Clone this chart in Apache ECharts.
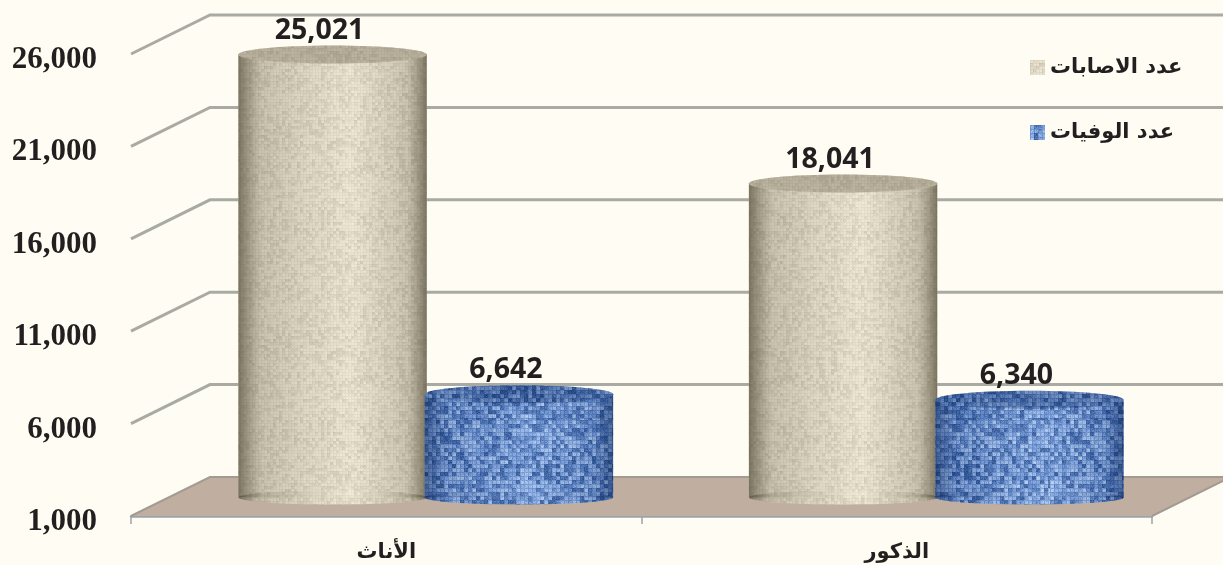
<!DOCTYPE html>
<html><head><meta charset="utf-8">
<style>html,body{margin:0;padding:0;background:#FFFDF3}#c{width:1223px;height:565px}</style>
<script src="https://cdn.jsdelivr.net/npm/echarts@6/dist/echarts.min.js"></script>
</head><body><div id="c"></div>
<script>
const categories = ['الأناث', 'الذكور'];
const seriesNames = ['عدد الاصابات', 'عدد الوفيات'];
const infections = [25021, 18041];
const deaths = [6642, 6340];
const yTicks = [1000, 6000, 11000, 16000, 21000, 26000];

const DEPTH_X = 79, DEPTH_Y = -39;
const BAR_RATIO = 0.369;

function hash(x, y, s) {
  const v = Math.sin(x * 127.1 + y * 311.7 + s * 74.7) * 43758.5453;
  return v - Math.floor(v);
}
function weave(size, base, dark, light, cell, seed, amount, seamAmt, blur) {
  const raw = document.createElement('canvas');
  raw.width = raw.height = size;
  const g = raw.getContext('2d');
  const mix = (a, b, t) => a.map((v, i) => Math.round(v + (b[i] - v) * t));
  for (let y = 0; y < size; y++) for (let x = 0; x < size; x++) {
    const cx = Math.floor(x / cell), cy = Math.floor(y / cell);
    const n = hash(cx, cy, seed + 1);
    const fine = hash(x, y, seed + 2);
    const row = hash(0, Math.floor(y / (cell * 5)), seed + 3);
    const col = hash(Math.floor(x / (cell * 7)), 0, seed + 4);
    let t = (n - 0.5) * amount + (fine - 0.5) * amount * 0.35 + (row + col - 1) * amount * 0.1;
    let c = t > 0 ? mix(base, light, Math.min(1, t * 1.6)) : mix(base, dark, Math.min(1, -t * 1.6));
    if (x % cell === 0 || y % cell === 0) c = mix(c, dark, seamAmt);
    g.fillStyle = 'rgb(' + c.join(',') + ')';
    g.fillRect(x, y, 1, 1);
  }
  const cv = document.createElement('canvas');
  cv.width = cv.height = size;
  const o = cv.getContext('2d');
  o.filter = 'blur(' + blur + 'px)';
  for (let dx = -size; dx <= size; dx += size) for (let dy = -size; dy <= size; dy += size) o.drawImage(raw, dx, dy);
  return { image: cv, repeat: 'repeat' };
}
const tanTex = weave(210, [231, 223, 204], [176, 168, 146], [248, 243, 228], 3, 3, 0.5, 0.2, 0.6);
const blueTex = weave(210, [116, 154, 216], [34, 72, 136], [186, 212, 248], 4, 7, 1.0, 0.3, 0.7);

function shade(edge, mid, hi) {
  return {
    type: 'linear', x: 0, y: 0, x2: 1, y2: 0,
    colorStops: [
      { offset: 0, color: edge },
      { offset: 0.12, color: mid },
      { offset: 0.6, color: hi },
      { offset: 0.9, color: mid },
      { offset: 1, color: edge }
    ]
  };
}

function cylinder(tex, side, topColor, dir) {
  return function (params, api) {
    const idx = api.value(0), val = api.value(1);
    const base = api.coord([idx, yTicks[0]]);
    const top = api.coord([idx, val]);
    const w = api.size([1, 0])[0] * BAR_RATIO;
    const cx = base[0] + DEPTH_X / 2 + dir * (w / 2 - 1);
    const by = base[1] + DEPTH_Y / 2 + 1;
    const ty = top[1] + DEPTH_Y / 2 + 2;
    const l = cx - w / 2;
    const h = by - ty;
    const parts = [];
    [tex, side].forEach(f => {
      parts.push({ type: 'ellipse', shape: { cx: cx, cy: by, rx: w / 2, ry: 7 }, style: { fill: f } });
      parts.push({ type: 'rect', shape: { x: l, y: ty, width: w, height: h }, style: { fill: f } });
    });
    parts.push({ type: 'ellipse', shape: { cx: cx, cy: ty, rx: w / 2, ry: 9 }, style: { fill: tex } });
    parts.push({ type: 'ellipse', shape: { cx: cx, cy: ty, rx: w / 2, ry: 9 }, style: { fill: topColor } });
    parts.push({
      type: 'text', style: {
        text: val.toLocaleString('en-US'), x: cx - 13, y: ty - 24,
        align: 'center', verticalAlign: 'middle',
        font: 'bold 28.5px "Open Sans", sans-serif', fill: '#231F20'
      }
    });
    return { type: 'group', children: parts };
  };
}

function walls(params, api) {
  const v = api.value(0);
  const cs = params.coordSys;
  const p = api.coord([0, v]);
  const x0 = cs.x, y = p[1], x1 = cs.x + cs.width;
  const kids = [];
  if (v === yTicks[0]) {
    kids.push({
      type: 'polygon',
      shape: { points: [[x0, y], [x0 + DEPTH_X, y + DEPTH_Y], [x1 + DEPTH_X, y + DEPTH_Y], [x1, y]] },
      style: { fill: '#C0AFA1', stroke: null }
    });
    kids.push({
      type: 'line',
      shape: { x1: x1, y1: y, x2: x1 + DEPTH_X, y2: y + DEPTH_Y },
      style: { stroke: '#A39B92', lineWidth: 2 }
    });
  }
  kids.push({
    type: 'polyline',
    shape: { points: [[x0, y], [x0 + DEPTH_X, y + DEPTH_Y], [x1 + DEPTH_X, y + DEPTH_Y]] },
    style: { fill: null, stroke: v === yTicks[0] ? '#A39B92' : '#A9AAA3', lineWidth: v === yTicks[0] ? 2 : 3 }
  });
  return { type: 'group', children: kids };
}

const chart = echarts.init(document.getElementById('c'));
chart.setOption({
  animation: false,
  backgroundColor: '#FFFDF3',
  grid: { left: 131, right: 71, top: 54, bottom: 49 },
  legend: {
    orient: 'vertical', left: 1025, top: 52, itemWidth: 15, itemHeight: 15, itemGap: 44,
    data: seriesNames, icon: 'rect',
    textStyle: { fontFamily: '"DejaVu Sans", sans-serif', fontWeight: 'bold', fontSize: 21, color: '#231F20' }
  },
  xAxis: {
    type: 'category', data: categories,
    axisLine: { lineStyle: { color: '#9DA3AB', width: 2.5 } },
    axisTick: { show: true, length: 8, lineStyle: { color: '#9DA3AB', width: 1.5 } },
    axisLabel: { margin: 26, fontFamily: '"DejaVu Sans", sans-serif', fontWeight: 'bold', fontSize: 21, color: '#231F20' }
  },
  yAxis: {
    type: 'value', min: yTicks[0], max: yTicks[yTicks.length - 1], interval: 5000,
    axisLine: { show: false }, axisTick: { show: false }, splitLine: { show: false },
    axisLabel: {
      margin: 34,
      formatter: v => '{t|' + v.toLocaleString('en-US') + '}',
      rich: { t: { padding: [12, 0, 0, 0], fontFamily: '"Liberation Serif", serif', fontWeight: 'bold', fontSize: 31, color: '#231F20' } }
    }
  },
  series: [
    { type: 'custom', name: 'walls', silent: true, z: 1, clip: false, data: yTicks.map(t => [t]),
      encode: { y: 0 }, renderItem: walls },
    { type: 'custom', name: seriesNames[0], z: 3, clip: false,
      itemStyle: { color: tanTex },
      data: infections.map((v, i) => [i, v]), encode: { x: 0, y: 1 },
      renderItem: cylinder(tanTex, shade('rgba(85,80,60,0.75)', 'rgba(120,115,95,0.28)', 'rgba(255,250,230,0.2)'), 'rgba(120,112,90,0.42)', -1) },
    { type: 'custom', name: seriesNames[1], z: 3, clip: false,
      itemStyle: { color: blueTex },
      data: deaths.map((v, i) => [i, v]), encode: { x: 0, y: 1 },
      renderItem: cylinder(blueTex, shade('rgba(15,40,90,0.55)', 'rgba(30,60,120,0.2)', 'rgba(190,215,255,0.12)'), 'rgba(25,55,110,0.35)', 1) }
  ]
});
</script></body></html>
